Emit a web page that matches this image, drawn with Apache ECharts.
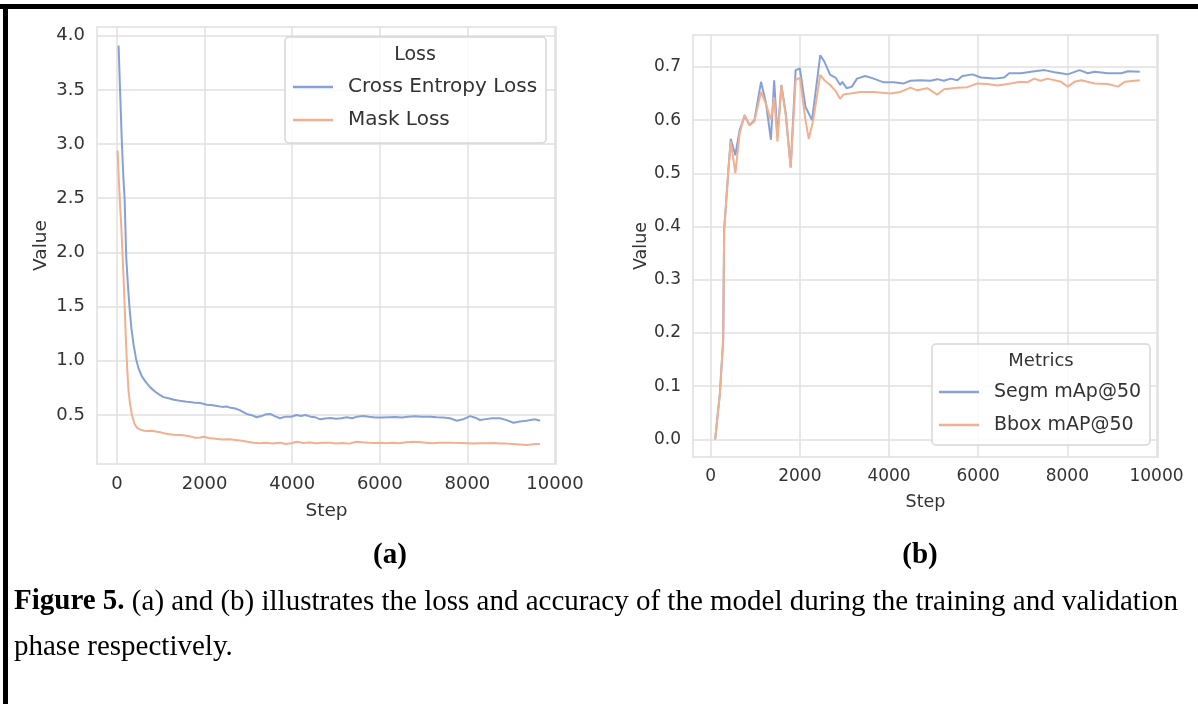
<!DOCTYPE html>
<html>
<head>
<meta charset="utf-8">
<script src="https://cdn.jsdelivr.net/npm/echarts@6/dist/echarts.min.js"></script>
<style>
html,body{margin:0;padding:0;background:#fff;}
#chart{width:1198px;height:704px;}
</style>
</head>
<body>
<div id="chart"></div>
<script>
// ---------- Data ----------
const stepTicks = [0, 2000, 4000, 6000, 8000, 10000];
const lossYTicks = [0.5, 1.0, 1.5, 2.0, 2.5, 3.0, 3.5, 4.0];
const metricYTicks = [0.0, 0.1, 0.2, 0.3, 0.4, 0.5, 0.6, 0.7];

const ceLossSteps = [37,70,114,145,174,212,250,288,330,379,435,493,565,646,760,874,960,1060,1177,1300,
  1400,1500,1600,1700,1800,1900,2050,2150,2290,2400,2500,2600,2700,2800,2960,3100,3190,3300,3400,3500,
  3600,3720,3850,3980,4100,4200,4300,4420,4520,4640,4750,4880,5000,5120,5250,5370,5480,5620,5750,5900,
  6050,6200,6350,6500,6650,6800,6950,7150,7300,7450,7600,7760,7900,8060,8180,8290,8420,8560,8740,8880,
  9050,9200,9350,9450,9550,9660];
const ceLossValues = [3.91,3.5,2.99,2.7,2.5,1.95,1.7,1.48,1.3,1.15,1.02,0.93,0.86,0.81,0.755,0.715,0.69,0.665,0.654,0.64,
  0.633,0.628,0.622,0.618,0.612,0.61,0.594,0.592,0.583,0.575,0.578,0.566,0.56,0.545,0.51,0.495,0.479,0.49,0.506,0.51,
  0.49,0.47,0.485,0.484,0.5,0.49,0.5,0.485,0.48,0.46,0.468,0.472,0.465,0.47,0.479,0.47,0.485,0.49,0.483,0.478,
  0.476,0.479,0.482,0.478,0.484,0.488,0.484,0.485,0.479,0.476,0.47,0.447,0.46,0.49,0.475,0.454,0.462,0.47,0.47,0.455,
  0.429,0.44,0.447,0.455,0.46,0.447];

const maskLossSteps = [14,45,75,98,125,151,180,205,235,265,300,342,400,456,530,620,721,
  800,913,1000,1100,1200,1300,1444,1550,1650,1785,1900,1976,2100,2250,2400,2585,2700,2850,2950,3117,3250,3400,3550,
  3726,3850,3980,4107,4250,4400,4550,4700,4867,5000,5150,5300,5475,5600,5750,5900,6006,6150,6300,6450,
  6600,6767,6900,7050,7200,7350,7528,7700,7850,8000,8150,8289,8450,8600,8750,8900,9049,9200,9350,9450,9544,9660];
const maskLossValues = [2.94,2.65,2.4,2.25,2.0,1.76,1.45,1.18,0.92,0.715,0.6,0.5,0.42,0.383,0.365,0.355,0.352,
  0.354,0.346,0.34,0.33,0.322,0.318,0.316,0.31,0.305,0.29,0.292,0.3,0.288,0.28,0.275,0.276,0.27,0.262,0.255,0.245,0.24,0.243,0.238,
  0.245,0.232,0.24,0.254,0.242,0.246,0.24,0.243,0.245,0.238,0.242,0.236,0.254,0.248,0.244,0.241,0.245,0.24,0.244,0.24,
  0.248,0.254,0.25,0.245,0.24,0.244,0.245,0.243,0.242,0.24,0.238,0.239,0.24,0.242,0.238,0.236,0.232,0.228,0.224,0.228,0.232,0.232];

const segmSteps = [100,206,280,302,391,450,553,649,760,870,981,1129,1240,1351,1424,1497,1586,1683,1794,1905,
  2000,2126,2273,2458,2550,2680,2800,2905,2950,3050,3169,3281,3468,3656,3881,4106,4331,4482,4707,4932,
  5083,5233,5383,5533,5646,5871,6058,6358,6583,6696,6959,7185,7485,7711,7860,8010,8273,8461,8611,8911,
  9212,9362,9625];
const segmValues = [0.0,0.086,0.187,0.393,0.5,0.565,0.534,0.581,0.608,0.591,0.6,0.672,0.632,0.563,0.675,0.569,0.666,0.613,0.512,0.694,
  0.697,0.625,0.6,0.722,0.71,0.685,0.68,0.666,0.672,0.66,0.663,0.678,0.683,0.678,0.671,0.671,0.669,0.674,0.675,0.674,
  0.677,0.674,0.678,0.675,0.683,0.686,0.68,0.678,0.68,0.688,0.688,0.691,0.694,0.69,0.688,0.686,0.694,0.688,0.691,0.688,
  0.688,0.692,0.691];

const bboxSteps = [100,206,280,302,391,450,553,649,760,870,981,1129,1240,1351,1424,1497,1586,1683,1794,1905,
  2000,2126,2200,2300,2458,2550,2680,2800,2901,2975,3130,3356,3656,4031,4256,4482,4632,4857,5083,5233,
  5533,5758,5984,6208,6433,6658,6959,7100,7260,7400,7560,7860,8010,8160,8311,8611,8911,9137,9287,9625];
const bboxValues = [0.0,0.086,0.187,0.393,0.5,0.56,0.5,0.575,0.61,0.59,0.598,0.653,0.63,0.6,0.643,0.56,0.665,0.61,0.51,0.675,
  0.68,0.6,0.565,0.6,0.685,0.675,0.666,0.655,0.64,0.648,0.65,0.653,0.653,0.65,0.653,0.661,0.656,0.66,0.648,0.658,
  0.661,0.662,0.669,0.668,0.665,0.668,0.672,0.671,0.678,0.674,0.678,0.672,0.663,0.672,0.675,0.669,0.668,0.663,0.672,0.675];

const lossSeriesNames = ['Cross Entropy Loss', 'Mask Loss'];
const metricSeriesNames = ['Segm mAp@50', 'Bbox mAP@50'];
const captionSubA = '(a)';
const captionSubB = '(b)';
const captionBold = 'Figure 5.';
const captionLine1 = ' (a) and (b) illustrates the loss and accuracy of the model during the training and validation';
const captionLine2 = 'phase respectively.';

// ---------- Helpers ----------
const zip = (xs, ys) => xs.map((x, i) => [x, ys[i]]);
const BLUE = '#86a1d6';
const ORANGE = '#f1b08f';
const GRID = '#e0e0e0';
const TICK = '#333333';
const SANS = 'DejaVu Sans';
const SERIF = 'Liberation Serif';

function xAxisCfg(gi, min, max, fs, nameGap) {
  return {
    type: 'value', gridIndex: gi, min: min, max: max, splitNumber: 5,
    axisLine: {show: false}, axisTick: {show: false, customValues: stepTicks},
    splitLine: {show: true, lineStyle: {color: GRID, width: 1.5}},
    axisLabel: {customValues: stepTicks, margin: 11, fontSize: fs, color: TICK, fontFamily: SANS,
      formatter: v => String(Math.round(v))},
    name: 'Step', nameLocation: 'middle', nameGap: nameGap,
    nameTextStyle: {fontSize: fs + 0.5, color: TICK, fontFamily: SANS}
  };
}
function yAxisCfg(gi, min, max, ticks, fs, nameGap) {
  return {
    type: 'value', gridIndex: gi, min: min, max: max, splitNumber: 8,
    axisLine: {show: false}, axisTick: {show: false, customValues: ticks},
    splitLine: {show: true, lineStyle: {color: GRID, width: 1.5}},
    axisLabel: {customValues: ticks, margin: 12, fontSize: fs, color: TICK, fontFamily: SANS,
      formatter: v => v.toFixed(1)},
    name: 'Value', nameLocation: 'middle', nameGap: nameGap,
    nameTextStyle: {fontSize: fs + 0.5, color: TICK, fontFamily: SANS}
  };
}
function lineSeries(name, data, color, xi, yi) {
  return {
    type: 'line', name: name, data: data, xAxisIndex: xi, yAxisIndex: yi,
    symbol: 'none', showSymbol: false, smooth: false, animation: false,
    lineStyle: {color: color, width: 2}, itemStyle: {color: color}
  };
}
function legendCfg(names, left, top, fs) {
  return {
    data: names, left: left, top: top, orient: 'vertical', padding: 0,
    icon: 'rect', itemWidth: 40, itemHeight: 2.5, itemGap: 11, selectedMode: false,
    textStyle: {fontSize: fs, lineHeight: 22, color: '#333', fontFamily: SANS, padding: [0, 0, 0, 10]},
    z: 10
  };
}
function legendBox(x, y, w, h, title, tx, ty, fs) {
  return [
    {type: 'rect', shape: {x: x, y: y, width: w, height: h, r: 4}, z: 8,
      style: {fill: 'rgba(255,255,255,0.85)', stroke: '#d6d6d6', lineWidth: 1.5}},
    {type: 'text', x: tx, y: ty, z: 9,
      style: {text: title, fontSize: fs, fontFamily: SANS, fill: '#333', align: 'center', verticalAlign: 'middle'}}
  ];
}

const chart = echarts.init(document.getElementById('chart'), null, {renderer: 'canvas'});
chart.setOption({
  backgroundColor: '#ffffff',
  animation: false,
  grid: [
    {left: 97, top: 27, width: 459, height: 437, show: true, borderColor: GRID, borderWidth: 1.5, backgroundColor: 'transparent'},
    {left: 693, top: 35, width: 465, height: 422, show: true, borderColor: GRID, borderWidth: 1.5, backgroundColor: 'transparent'}
  ],
  xAxis: [
    xAxisCfg(0, -456, 10023, 18, 38),
    xAxisCfg(1, -397, 10034, 17, 36)
  ],
  yAxis: [
    yAxisCfg(0, 0.048, 4.08, lossYTicks, 18, 46),
    yAxisCfg(1, -0.0333, 0.760, metricYTicks, 17, 41)
  ],
  legend: [
    legendCfg(lossSeriesNames, 293, 76, 20),
    legendCfg(metricSeriesNames, 939, 381, 19)
  ],
  series: [
    lineSeries(lossSeriesNames[0], zip(ceLossSteps, ceLossValues), BLUE, 0, 0),
    lineSeries(lossSeriesNames[1], zip(maskLossSteps, maskLossValues), ORANGE, 0, 0),
    lineSeries(metricSeriesNames[0], zip(segmSteps, segmValues), BLUE, 1, 1),
    lineSeries(metricSeriesNames[1], zip(bboxSteps, bboxValues), ORANGE, 1, 1)
  ],
  graphic: [
    // page border (top and left black rules)
    {type: 'rect', shape: {x: 0, y: 4, width: 1198, height: 5}, style: {fill: '#000'}, z: 20},
    {type: 'rect', shape: {x: 3, y: 4, width: 5, height: 700}, style: {fill: '#000'}, z: 20},
    ...legendBox(285, 37, 261, 106, 'Loss', 415, 55, 19),
    ...legendBox(932, 344, 218, 101, 'Metrics', 1041, 361, 18),
    {type: 'text', x: 390, y: 556, z: 20,
      style: {text: captionSubA, fontSize: 29, fontWeight: 'bold', fontFamily: SERIF, fill: '#000', align: 'center', verticalAlign: 'middle'}},
    {type: 'text', x: 920, y: 556, z: 20,
      style: {text: captionSubB, fontSize: 29, fontWeight: 'bold', fontFamily: SERIF, fill: '#000', align: 'center', verticalAlign: 'middle'}},
    {type: 'text', x: 14, y: 602, z: 20,
      style: {text: '{b|' + captionBold + '}' + captionLine1, fontSize: 29, fontFamily: SERIF, fill: '#000',
        verticalAlign: 'middle',
        rich: {b: {fontSize: 29, fontFamily: SERIF, fontWeight: 'bold', fill: '#000'}}}},
    {type: 'text', x: 14, y: 647, z: 20,
      style: {text: captionLine2, fontSize: 29, fontFamily: SERIF, fill: '#000', verticalAlign: 'middle'}}
  ]
});
</script>
</body>
</html>
